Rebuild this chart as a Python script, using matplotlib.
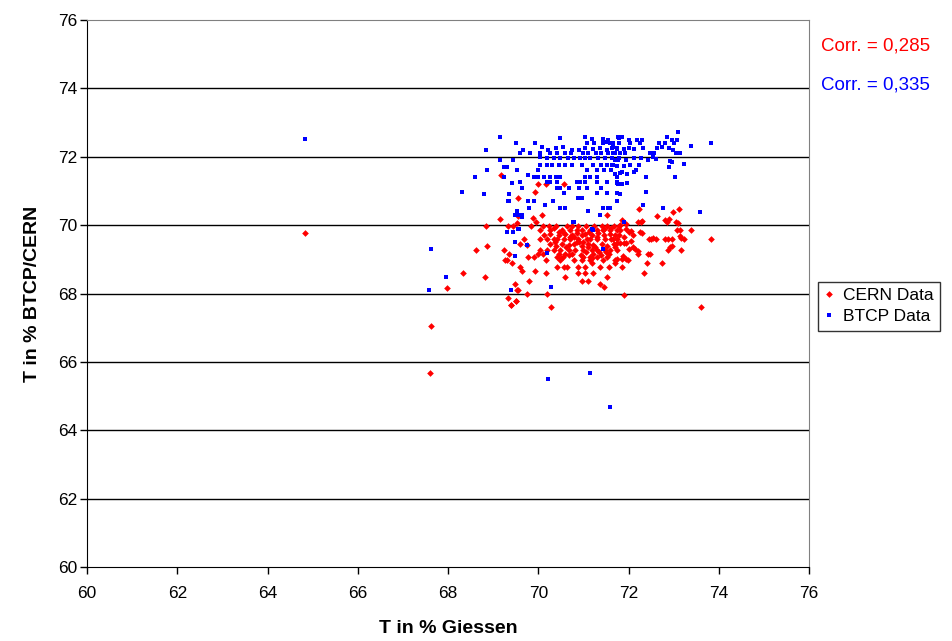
import matplotlib
matplotlib.use("Agg")
import matplotlib.pyplot as plt
from matplotlib.lines import Line2D

plt.rcParams["font.family"] = ["Liberation Sans", "DejaVu Sans"]

ROT, BLAU = "#ff0000", "#0000ff"

# CERN-Messungen gegen Giessen (x, y in %)
cern_x = [
    64.83, 67.97, 67.63, 67.60, 73.60, 73.83, 68.33, 68.81, 69.40, 69.50, 70.28, 68.62, 68.87, 68.85,
    69.14, 69.17, 70.00, 70.17, 70.56, 69.93, 69.56, 69.56, 71.53,
    69.52, 69.95, 69.32, 69.45, 69.84, 70.10, 70.24, 70.40, 70.63, 70.74, 70.89, 71.06, 71.24, 71.41,
    71.52, 71.67, 71.78,
    70.03, 70.26, 70.52, 70.71, 70.85, 70.96, 71.15, 71.30, 71.44, 71.58, 71.74,
    70.12, 70.26, 70.45, 70.60, 70.74, 70.85, 70.96, 71.04, 71.19, 71.33, 71.46, 71.59, 71.70, 71.78,
    69.69, 70.03, 70.19, 70.34, 70.41, 70.56, 70.71, 70.89, 71.08, 71.15, 71.30, 71.48, 71.65, 71.74,
    69.60, 69.76, 70.26, 70.40, 70.52, 70.67, 70.79, 70.96, 71.11, 71.22, 71.41, 71.52, 71.67,
    69.23, 70.04, 70.19, 70.34, 70.48, 70.67, 70.82, 71.00, 71.19, 71.30, 71.48, 71.59, 71.74,
    69.36, 69.99, 70.10, 70.45, 70.60, 70.74, 71.22, 71.56,
    69.78, 69.91, 70.41, 70.54, 70.99, 71.15, 71.30, 71.52,
    69.27, 69.30, 70.17, 70.48, 70.78, 70.96, 71.15, 71.44, 71.70,
    69.41, 71.19, 71.70,
    69.60, 70.41, 70.56, 70.63, 70.89, 71.04, 71.36, 71.56,
    69.64, 69.93, 70.16, 70.89, 71.04, 71.22,
    70.60, 71.52, 69.80, 70.96, 71.09, 69.49, 71.37, 71.46, 69.52, 69.56, 69.76, 70.19,
    69.32, 69.51, 69.40,
    72.22, 72.64, 72.99, 73.12, 72.85, 72.80, 72.90, 73.05, 73.09, 73.08, 73.14, 73.38, 73.14, 73.16,
    73.23, 73.16, 72.88, 72.97, 72.92, 72.80, 72.88, 72.97, 72.74, 72.43, 72.48, 72.40, 72.35, 72.20,
    71.89, 72.50, 72.60, 72.55, 72.45, 72.00, 72.05, 72.25, 72.30, 72.20, 72.28, 72.30, 71.80, 71.85,
    71.95, 71.90, 71.80, 71.75, 71.95, 72.00, 72.10, 72.15, 72.20, 71.95, 71.98, 71.85, 71.75, 71.85,
    71.90, 72.10, 71.80, 71.95, 72.05, 71.88, 71.70, 71.62,
    70.35, 70.55, 70.70, 70.90, 71.10, 71.35, 71.60, 70.45, 70.80, 71.00, 71.25, 71.50, 70.38, 70.62,
    70.95, 71.20, 71.45, 70.50, 70.85, 71.05, 71.30, 70.68, 71.12, 71.40, 69.88, 70.08,
]
cern_y = [
    69.78, 68.17, 67.06, 65.67, 67.60, 69.58, 68.59, 68.47, 67.67, 67.78, 67.60, 69.27, 69.39, 69.97,
    70.17, 71.46, 71.19, 71.19, 71.19, 70.98, 70.78, 70.27, 70.29,
    70.07, 70.10, 69.97, 69.97, 69.97, 69.97, 69.97, 69.97, 69.97, 69.97, 69.97, 69.97, 69.97, 69.97,
    69.97, 69.97, 69.97,
    69.87, 69.87, 69.87, 69.87, 69.87, 69.87, 69.87, 69.87, 69.87, 69.87, 69.87,
    69.72, 69.75, 69.70, 69.74, 69.72, 69.78, 69.70, 69.74, 69.72, 69.76, 69.70, 69.74, 69.72, 69.70,
    69.58, 69.58, 69.58, 69.58, 69.58, 69.58, 69.58, 69.58, 69.58, 69.58, 69.58, 69.58, 69.58, 69.58,
    69.45, 69.42, 69.45, 69.40, 69.45, 69.42, 69.45, 69.40, 69.45, 69.42, 69.45, 69.40, 69.45,
    69.27, 69.27, 69.27, 69.27, 69.27, 69.27, 69.27, 69.27, 69.27, 69.27, 69.27, 69.27, 69.27,
    69.17, 69.17, 69.17, 69.17, 69.17, 69.17, 69.17, 69.17,
    69.07, 69.07, 69.07, 69.07, 69.07, 69.07, 69.07, 69.07,
    68.98, 68.98, 68.98, 68.98, 68.98, 68.98, 68.98, 68.98, 68.98,
    68.88, 68.88, 68.88,
    68.78, 68.78, 68.78, 68.78, 68.78, 68.78, 68.78, 68.78,
    68.66, 68.66, 68.59, 68.59, 68.59, 68.59,
    68.47, 68.47, 68.37, 68.37, 68.37, 68.27, 68.27, 68.18, 68.10, 68.10, 67.98, 67.98,
    67.86, 67.79, 67.66,
    70.46, 70.27, 70.39, 70.46, 70.10, 70.15, 70.18, 70.08, 70.07, 69.87, 69.87, 69.87, 69.68, 69.62,
    69.58, 69.27, 69.27, 69.40, 69.35, 69.58, 69.58, 69.58, 68.90, 69.17, 69.17, 68.90, 68.59, 69.17,
    67.97, 69.60, 69.58, 69.62, 69.58, 69.80, 69.82, 69.80, 69.78, 70.10, 70.08, 70.12, 70.00, 70.15,
    70.02, 69.47, 69.47, 69.47, 69.47, 69.30, 69.35, 69.30, 69.25, 69.00, 68.98, 69.00, 69.00, 68.78,
    69.65, 69.70, 69.85, 69.90, 69.55, 69.10, 69.35, 69.60,
    69.92, 69.80, 69.65, 69.50, 69.35, 69.20, 69.92, 69.80, 69.65, 69.50, 69.35, 69.20, 69.50, 69.35,
    69.12, 69.05, 69.88, 69.05, 69.50, 69.20, 69.65, 69.12, 69.80, 69.12, 70.20, 70.30,
]

# BTCP-Messungen gegen Giessen (x, y in %)
btcp_x = [
    64.83, 67.62, 67.96, 67.58, 70.22, 71.15, 71.59, 70.28, 69.39, 72.33, 72.77, 73.58, 71.89,
    71.20, 71.43, 70.19, 69.75, 69.48, 69.48, 69.30, 69.58, 70.77, 69.55, 69.63,
    69.14, 70.48, 71.04, 71.19, 71.55, 71.78, 71.44,
    69.51, 69.93, 71.08, 71.24, 71.44, 71.66, 71.78, 71.52,
    68.85, 69.67, 70.08, 70.21, 70.40, 70.54, 70.74, 70.91, 71.04, 71.22, 71.37, 71.52, 71.66, 71.74,
    69.60, 69.82, 70.03, 70.26, 70.42, 70.60, 70.72, 70.99, 71.09, 71.28, 71.40, 71.55, 71.70,
    69.16, 69.45, 70.04, 70.19, 70.34, 70.48, 70.65, 70.78, 70.93, 71.04, 71.15, 71.33, 71.48, 71.63,
    71.78,
    69.23, 69.30, 70.03, 70.19, 70.30, 70.45, 70.60, 70.74, 70.96, 71.22, 71.40, 71.52, 71.66,
    68.86, 69.52, 70.00, 71.08, 71.30, 71.46, 71.60,
    68.60, 69.23, 69.78, 69.90, 70.00, 70.12, 70.26, 70.39, 70.48, 71.04, 71.15, 71.30, 71.74,
    69.41, 69.60, 70.19, 70.26, 70.42, 70.85, 70.93, 71.04, 71.30, 71.52, 71.74,
    69.63, 70.41, 70.48, 70.67, 70.90, 71.08, 71.40,
    68.32, 68.80, 69.35, 70.56, 71.30, 71.52, 71.74,
    70.89, 70.96,
    69.32, 69.36, 69.78, 69.91, 70.32, 71.74,
    69.80, 70.15, 70.47, 70.60, 71.44, 71.55,
    69.52, 69.49, 69.63, 71.09, 71.37,
    70.78, 69.30, 69.45, 69.56, 71.22,
    73.10,
    71.77, 71.85, 72.85,
    72.00, 72.18, 72.29, 72.96, 73.07,
    71.59, 72.03, 72.25, 72.68, 72.81, 73.01, 73.82,
    71.63, 71.74, 71.89, 72.00, 72.11, 72.31, 72.62, 72.73, 72.90, 72.99, 73.38,
    71.66, 71.81, 71.92, 72.48, 72.56, 73.05, 73.14,
    71.70, 71.77, 71.94, 72.11, 72.27, 72.44, 72.55, 72.61, 72.92, 72.96,
    71.63, 71.74, 71.89, 72.03, 72.22, 72.90, 73.23,
    71.70, 71.81, 71.85, 71.96, 72.11, 72.17,
    72.39, 73.03,
    71.74, 71.77, 71.85, 71.96,
    72.39, 71.81, 71.59,
]
btcp_y = [
    72.51, 69.30, 68.49, 68.10, 65.50, 65.68, 64.69, 68.18, 68.10, 70.58, 70.49, 70.39, 70.10,
    69.90, 69.29, 69.18, 69.42, 69.10, 69.50, 69.80, 69.88, 70.10, 70.30, 70.25,
    72.58, 72.55, 72.58, 72.52, 72.50, 72.55, 72.52,
    72.39, 72.39, 72.39, 72.39, 72.39, 72.39, 72.39, 72.42,
    72.20, 72.20, 72.29, 72.20, 72.25, 72.29, 72.20, 72.20, 72.25, 72.22, 72.25, 72.20, 72.28, 72.22,
    72.10, 72.10, 72.10, 72.10, 72.10, 72.10, 72.10, 72.10, 72.10, 72.10, 72.10, 72.10, 72.10,
    71.90, 71.90, 71.98, 71.95, 71.95, 71.95, 71.95, 71.95, 71.95, 71.95, 71.95, 71.95, 71.95, 71.95,
    71.95,
    71.70, 71.70, 71.75, 71.75, 71.75, 71.75, 71.75, 71.75, 71.75, 71.75, 71.75, 71.75, 71.75,
    71.61, 71.61, 71.61, 71.61, 71.61, 71.61, 71.61,
    71.40, 71.40, 71.46, 71.40, 71.40, 71.40, 71.40, 71.40, 71.40, 71.40, 71.40, 71.40, 71.40,
    71.22, 71.25, 71.25, 71.25, 71.25, 71.25, 71.25, 71.25, 71.25, 71.25, 71.25,
    71.10, 71.10, 71.10, 71.10, 71.10, 71.10, 71.10,
    70.98, 70.91, 70.91, 70.95, 70.95, 70.95, 70.95,
    70.80, 70.80,
    70.70, 70.70, 70.70, 70.70, 70.70, 70.70,
    70.49, 70.59, 70.49, 70.49, 70.49, 70.49,
    70.41, 70.29, 70.29, 70.41, 70.29,
    70.10, 69.80, 69.80, 69.90, 69.85,
    72.72,
    72.59, 72.59, 72.59,
    72.50, 72.50, 72.50, 72.50, 72.50,
    72.40, 72.40, 72.40, 72.40, 72.40, 72.40, 72.40,
    72.25, 72.25, 72.22, 72.25, 72.22, 72.25, 72.25, 72.28, 72.25, 72.20, 72.30,
    72.10, 72.10, 72.10, 72.10, 72.10, 72.10, 72.10,
    71.90, 71.90, 71.90, 71.95, 71.95, 71.90, 72.00, 71.93, 71.88, 71.85,
    71.75, 71.72, 71.72, 71.75, 71.75, 71.70, 71.80,
    71.50, 71.52, 71.55, 71.50, 71.55, 71.60,
    71.40, 71.40,
    71.22, 71.20, 71.20, 71.22,
    70.98, 70.90, 70.50,
]

corr_cern = "0,285"
corr_btcp = "0,335"

fig = plt.figure(figsize=(9.53, 6.41), dpi=100)
ax = fig.add_axes([0.0913, 0.1154, 0.7577, 0.8534])

ax.plot(cern_x, cern_y, "D", color=ROT, ms=3.4, mew=0, ls="none")
ax.plot(btcp_x, btcp_y, "s", color=BLAU, ms=3.5, mew=0, ls="none")

ax.set_xlim(60, 76)
ax.set_ylim(60, 76)
ax.set_xticks(range(60, 77, 2))
ax.set_yticks(range(60, 77, 2))
for y in range(62, 76, 2):
    ax.axhline(y, color="black", lw=1, zorder=0)

for s in ("top", "right"):
    ax.spines[s].set_color("#808080")
for s in ("left", "bottom"):
    ax.spines[s].set_color("black")
ax.tick_params(direction="out", length=5, width=1, labelsize=12.5)
ax.tick_params(axis="x", pad=9)
ax.tick_params(axis="y", pad=2)

ax.set_xlabel("T in % Giessen", fontsize=14, weight="bold", labelpad=13)
ax.set_ylabel("T in % BTCP/CERN", fontsize=14, weight="bold", labelpad=12)

fig.text(0.862, 0.929, f"Corr. = {corr_cern}", color=ROT, fontsize=13.5, va="center")
fig.text(0.862, 0.867, f"Corr. = {corr_btcp}", color=BLAU, fontsize=13.5, va="center")

griffe = [
    Line2D([], [], marker="D", color=ROT, ms=3.4, mew=0, ls="none"),
    Line2D([], [], marker="s", color=BLAU, ms=3.5, mew=0, ls="none"),
]
leg = fig.legend(griffe, ["CERN Data", "BTCP Data"], loc="upper left",
                 bbox_to_anchor=(0.858, 0.56), fontsize=12.5, frameon=True,
                 fancybox=False, handlelength=0.6, handletextpad=0.5,
                 borderpad=0.35, labelspacing=0.35, borderaxespad=0)
leg.get_frame().set_edgecolor("black")
leg.get_frame().set_linewidth(1)

fig.savefig("out.png", dpi=100)
